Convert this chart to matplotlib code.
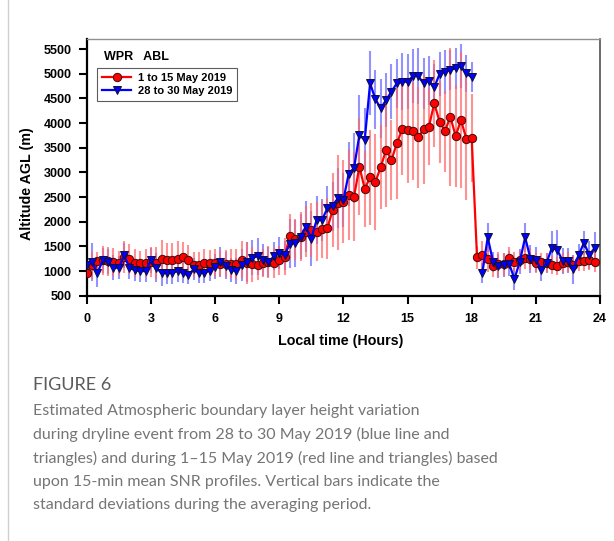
import numpy as np
import matplotlib
matplotlib.use("Agg")
import matplotlib.pyplot as plt
from matplotlib.lines import Line2D

# local time, 15-min steps
hours = np.arange(96) * 0.25

# 1 to 15 May 2019
abl_may1 = [960, 1115, 1196, 1216, 1196, 1183, 1162, 1284, 1243, 1169,
            1162, 1162, 1183, 1162, 1250, 1216, 1230, 1250, 1275, 1230,
            1130, 1130, 1160, 1160, 1160, 1150, 1150, 1150, 1135, 1230,
            1160, 1135, 1115, 1160, 1180, 1160, 1215, 1290,
            1711, 1645, 1700, 1800, 1830, 1800, 1845, 1865,
            2240, 2390, 2410, 2550, 2510, 3116, 2670, 2900, 2806, 3116,
            3455, 3252, 3590, 3875, 3860, 3835, 3712, 3875, 3928, 4402,
            4030, 3835, 4130, 3740, 4060, 3684, 3700,
            1279, 1325, 1238, 1102, 1136, 1136, 1270, 1190, 1225, 1270,
            1238, 1170, 1190, 1170, 1125, 1102, 1156, 1190, 1125, 1203,
            1203, 1225, 1190]
sd_may1 = [250, 280, 200, 300, 300, 280, 250, 330, 300, 280,
           250, 280, 300, 330, 370, 350, 330, 350, 320, 300,
           260, 250, 280, 260, 280, 250, 280, 300, 320, 380,
           420, 350, 300, 280, 320, 300, 300, 380,
           450, 420, 500, 520, 550, 600, 580, 620,
           750, 960, 850, 920, 900, 980, 770, 970, 970, 850,
           1150, 810, 1130, 930, 1080, 990, 1030, 1100, 780, 880,
           830, 820, 1400, 1040, 1380, 1240, 900,
           230, 280, 250, 220, 250, 230, 220, 200, 200, 230,
           220, 200, 180, 190, 180, 180, 200, 200, 190, 200,
           200, 210, 200]

# 28 to 30 May 2019 (dryline event)
abl_may28 = [1115, 1183, 960, 1216, 1190, 1068, 1068, 1318, 1068, 1014,
             1000, 1000, 1220, 1068, 960, 960, 960, 1000, 960, 912,
             1040, 960, 960, 1010, 1090, 1180, 1110, 1020, 1000, 1120,
             1180, 1270, 1300, 1220, 1183, 1300, 1365, 1318,
             1555, 1563, 1700, 1900, 1660, 2035, 2035, 2270,
             2310, 2480, 2440, 2975, 3090, 3760, 3660, 4808, 4483, 4300,
             4470, 4640, 4808, 4840, 4840, 4955, 4955, 4808, 4860, 4726,
             4996, 5043, 5077, 5111, 5158, 5010, 4930,
             np.nan, 966, 1684, 1190, 1102, 1120, 1150, 840, 1190, 1684,
             1250, 1230, 1030, 1165, 1470, 1430, 1210, 1210, 1035, 1325,
             1570, 1325, 1470]
sd_may28 = [250, 380, 280, 250, 260, 250, 230, 250, 230, 220,
            230, 220, 250, 300, 260, 230, 220, 230, 200, 180,
            230, 200, 200, 220, 250, 300, 280, 250, 260, 330,
            400, 350, 380, 330, 300, 280, 320, 300,
            500, 480, 450, 520, 550, 480, 420, 450,
            500, 600, 550, 650, 700, 820, 650, 650, 600, 600,
            550, 550, 500, 580, 560, 550, 560, 520, 500, 480,
            450, 450, 400, 420, 450, 380, 300,
            np.nan, 200, 300, 200, 250, 250, 260, 230, 250, 300,
            280, 250, 230, 200, 350, 400, 260, 250, 300, 230,
            250, 280, 320]

x_ticks = [0, 3, 6, 9, 12, 15, 18, 21, 24]
y_ticks = [500, 1000, 1500, 2000, 2500, 3000, 3500, 4000, 4500, 5000, 5500]

caption_title = "FIGURE 6"
caption_lines = [
    "Estimated Atmospheric boundary layer height variation",
    "during dryline event from 28 to 30 May 2019 (blue line and",
    "triangles) and during 1\u201315 May 2019 (red line and triangles) based",
    "upon 15-min mean SNR profiles. Vertical bars indicate the",
    "standard deviations during the averaging period.",
]

W, H = 614, 541
fig = plt.figure(figsize=(W / 100, H / 100), dpi=100)
fig.patch.set_facecolor("white")

ax = fig.add_axes([86.7 / W, 1 - 295.7 / H, (600 - 86.7) / W, (295.7 - 39.3) / H])

bold = dict(family="Liberation Sans", weight="bold")

ax.errorbar(hours, abl_may28, yerr=sd_may28, fmt="none", ecolor=(0.4, 0.4, 1.0),
            alpha=0.7, elinewidth=1.5, capsize=0, zorder=1)
ax.errorbar(hours, abl_may1, yerr=sd_may1, fmt="none", ecolor=(1.0, 0.4, 0.4),
            alpha=0.7, elinewidth=1.5, capsize=0, zorder=2)
ax.plot(hours, abl_may1, color="red", lw=1.6, marker="o", ms=6,
        mfc="red", mec="#3a1010", mew=0.7, zorder=3, label="1 to 15 May 2019")
ax.plot(hours, abl_may28, color="blue", lw=1.6, marker="v", ms=6,
        mfc="blue", mec="#101030", mew=0.7, zorder=4, label="28 to 30 May 2019")

ax.set_xlim(0, 24)
ax.set_ylim(500, 5700)
ax.set_xticks(x_ticks)
ax.set_yticks(y_ticks)
ax.tick_params(direction="out", length=6, width=1.5, pad=5)
ax.tick_params(axis="x", pad=6.5)
for lab in ax.get_xticklabels() + ax.get_yticklabels():
    lab.set_fontproperties(matplotlib.font_manager.FontProperties(size=9, **bold))

for side in ["left", "bottom"]:
    ax.spines[side].set_linewidth(1.6)
    ax.spines[side].set_color("black")
ax.spines["top"].set_linewidth(1.0)
ax.spines["top"].set_color("#909090")
ax.spines["right"].set_linewidth(1.2)
ax.spines["right"].set_color("#505050")

ax.text(0.033, 0.955, "WPR   ABL", transform=ax.transAxes, ha="left", va="top",
        fontsize=9, **bold)

leg = ax.legend(loc="upper left", bbox_to_anchor=(0.021, 0.888), frameon=True,
                fancybox=False, borderpad=0.45, handlelength=2.6, handletextpad=0.6,
                labelspacing=0.3, borderaxespad=0,
                prop=dict(size=8, **bold))
leg.get_frame().set_edgecolor("#333333")
leg.get_frame().set_linewidth(0.8)

fig.text(27 / W, 1 - 184 / H, "Altitude AGL (m)", rotation=90, ha="center",
         va="center", fontsize=10.3, **bold)
fig.text(341 / W, 1 - 341 / H, "Local time (Hours)", ha="center", va="center",
         fontsize=10.3, **bold)

fig.text(33 / W, 1 - 385 / H, caption_title, ha="left", va="center",
         fontsize=13, color="#5a5a5a", family="Lato")
for i, line in enumerate(caption_lines):
    fig.text(33 / W, 1 - (411 + i * 23.6) / H, line, ha="left", va="center",
             fontsize=11.5, color="#757575", family="Lato")

fig.add_artist(Line2D([7.5 / W, 7.5 / W], [0, 1], color="#cfcfcf", lw=1))

fig.savefig("out.png", dpi=100)
